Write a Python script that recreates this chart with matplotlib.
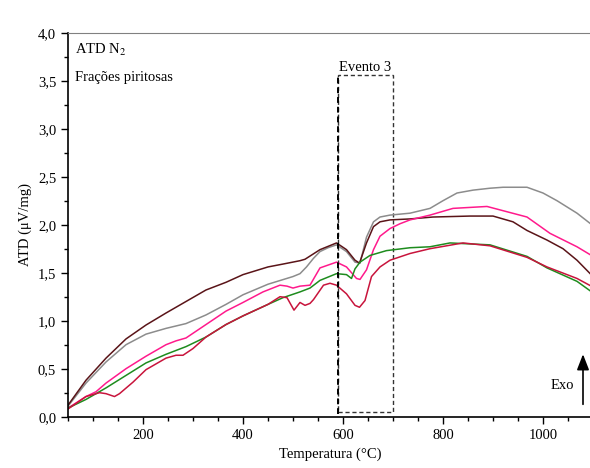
import matplotlib.pyplot as plt
from matplotlib.ticker import MultipleLocator, FuncFormatter
from matplotlib.patches import Rectangle

plt.rcParams['font.family'] = ['Liberation Serif', 'DejaVu Serif']
plt.rcParams['mathtext.fontset'] = 'stix'
plt.rcParams['font.size'] = 10.5

# values
t_brown = [50, 86, 126, 166, 206, 246, 286, 326, 366, 400, 450, 480, 514, 524, 554, 587, 607, 624, 633, 647, 661, 674, 694, 734, 780, 854, 900, 940, 968, 1008, 1040, 1068, 1100]
v_brown = [0.12, 0.38, 0.61, 0.81, 0.955, 1.08, 1.20, 1.32, 1.40, 1.48, 1.56, 1.59, 1.625, 1.64, 1.74, 1.81, 1.74, 1.63, 1.60, 1.81, 1.98, 2.03, 2.05, 2.06, 2.08, 2.09, 2.09, 2.03, 1.94, 1.84, 1.75, 1.63, 1.46]

t_gray = [50, 86, 126, 166, 206, 246, 286, 326, 366, 400, 450, 500, 514, 527, 541, 554, 570, 587, 607, 624, 634, 647, 661, 674, 694, 714, 734, 774, 800, 828, 860, 894, 920, 968, 1000, 1028, 1068, 1100]
v_gray = [0.11, 0.35, 0.57, 0.75, 0.86, 0.92, 0.97, 1.06, 1.17, 1.27, 1.38, 1.46, 1.49, 1.56, 1.65, 1.72, 1.76, 1.79, 1.72, 1.61, 1.60, 1.87, 2.03, 2.08, 2.10, 2.11, 2.12, 2.17, 2.25, 2.33, 2.36, 2.38, 2.39, 2.39, 2.33, 2.25, 2.12, 1.99]

t_pink = [50, 86, 106, 126, 166, 206, 246, 266, 286, 306, 326, 366, 400, 440, 474, 488, 500, 514, 534, 554, 587, 607, 627, 634, 647, 661, 674, 694, 714, 734, 774, 820, 888, 968, 1014, 1068, 1100]
v_pink = [0.09, 0.21, 0.26, 0.35, 0.50, 0.63, 0.75, 0.79, 0.82, 0.89, 0.96, 1.10, 1.19, 1.30, 1.37, 1.36, 1.34, 1.36, 1.37, 1.55, 1.61, 1.56, 1.44, 1.43, 1.53, 1.74, 1.88, 1.96, 2.01, 2.05, 2.10, 2.17, 2.19, 2.08, 1.91, 1.77, 1.67]

t_green = [50, 86, 126, 166, 206, 246, 286, 326, 366, 400, 450, 480, 514, 534, 554, 587, 607, 617, 624, 634, 654, 687, 734, 774, 814, 894, 968, 1008, 1068, 1100]
v_green = [0.09, 0.18, 0.30, 0.43, 0.56, 0.65, 0.73, 0.83, 0.96, 1.05, 1.17, 1.24, 1.30, 1.34, 1.42, 1.49, 1.48, 1.44, 1.54, 1.61, 1.68, 1.73, 1.76, 1.77, 1.81, 1.79, 1.67, 1.55, 1.41, 1.29]

t_red = [50, 86, 113, 126, 143, 153, 180, 206, 246, 266, 280, 300, 326, 366, 400, 450, 474, 488, 502, 514, 524, 534, 541, 561, 574, 587, 607, 624, 633, 644, 657, 674, 694, 734, 774, 840, 894, 968, 1008, 1068, 1100]
v_red = [0.08, 0.21, 0.25, 0.24, 0.21, 0.24, 0.36, 0.49, 0.61, 0.64, 0.64, 0.71, 0.83, 0.96, 1.05, 1.17, 1.25, 1.24, 1.11, 1.19, 1.16, 1.18, 1.22, 1.37, 1.39, 1.37, 1.28, 1.16, 1.14, 1.21, 1.46, 1.56, 1.63, 1.70, 1.75, 1.81, 1.78, 1.66, 1.56, 1.44, 1.35]

fig = plt.figure(figsize=(5.9, 4.68), dpi=100)
ax = fig.add_axes([68 / 590, (468 - 416.7) / 468, (593 - 68) / 590, (416.7 - 32.7) / 468])

ax.plot(t_gray, v_gray, color='#8c8c8c', lw=1.1)
ax.plot(t_brown, v_brown, color='#5a1418', lw=1.1)
ax.plot(t_pink, v_pink, color='#ff1a8c', lw=1.1)
ax.plot(t_green, v_green, color='#1e8c1e', lw=1.1)
ax.plot(t_red, v_red, color='#c8143c', lw=1.1)

# Evento 3 box
ax.plot([590, 590], [0.03, 3.56], color='black', lw=1.4, ls=(0, (3, 2)))
ax.add_patch(Rectangle((590, 0.05), 110, 3.51, fill=False, ec='#333333', lw=1.0, ls=(0, (3, 2))))
ax.text(645, 3.57, 'Evento 3', ha='center', va='bottom')

# Exo arrow
ax.annotate('', xy=(1080, 0.68), xytext=(1080, 0.1),
            arrowprops=dict(arrowstyle='-|>,head_length=0.9,head_width=0.35', color='black', lw=1.2))
ax.text(1063, 0.33, 'Exo', ha='right', va='center')

ax.text(0.014, 0.975, 'ATD N$_2$', transform=ax.transAxes, va='top')
ax.text(0.014, 0.9, 'Frações piritosas', transform=ax.transAxes, va='top')

ax.set_xlim(50, 1100)
ax.set_ylim(0, 4.0)
ax.xaxis.set_major_locator(MultipleLocator(200))
ax.xaxis.set_minor_locator(MultipleLocator(50))
ax.yaxis.set_major_locator(MultipleLocator(0.5))
ax.yaxis.set_minor_locator(MultipleLocator(0.25))
ax.yaxis.set_major_formatter(FuncFormatter(lambda v, p: f'{v:.1f}'.replace('.', ',')))
ax.tick_params(which='both', direction='out', width=1.0)
ax.tick_params(which='major', length=5)
ax.tick_params(which='minor', length=3)
ax.spines['right'].set_visible(False)
ax.spines['top'].set_color('#808080')
ax.spines['left'].set_linewidth(1.2)
ax.spines['bottom'].set_linewidth(1.2)

ax.set_xlabel('Temperatura (°C)')
ax.set_ylabel('ATD (μV/mg)')

fig.savefig('out.png', dpi=100)
